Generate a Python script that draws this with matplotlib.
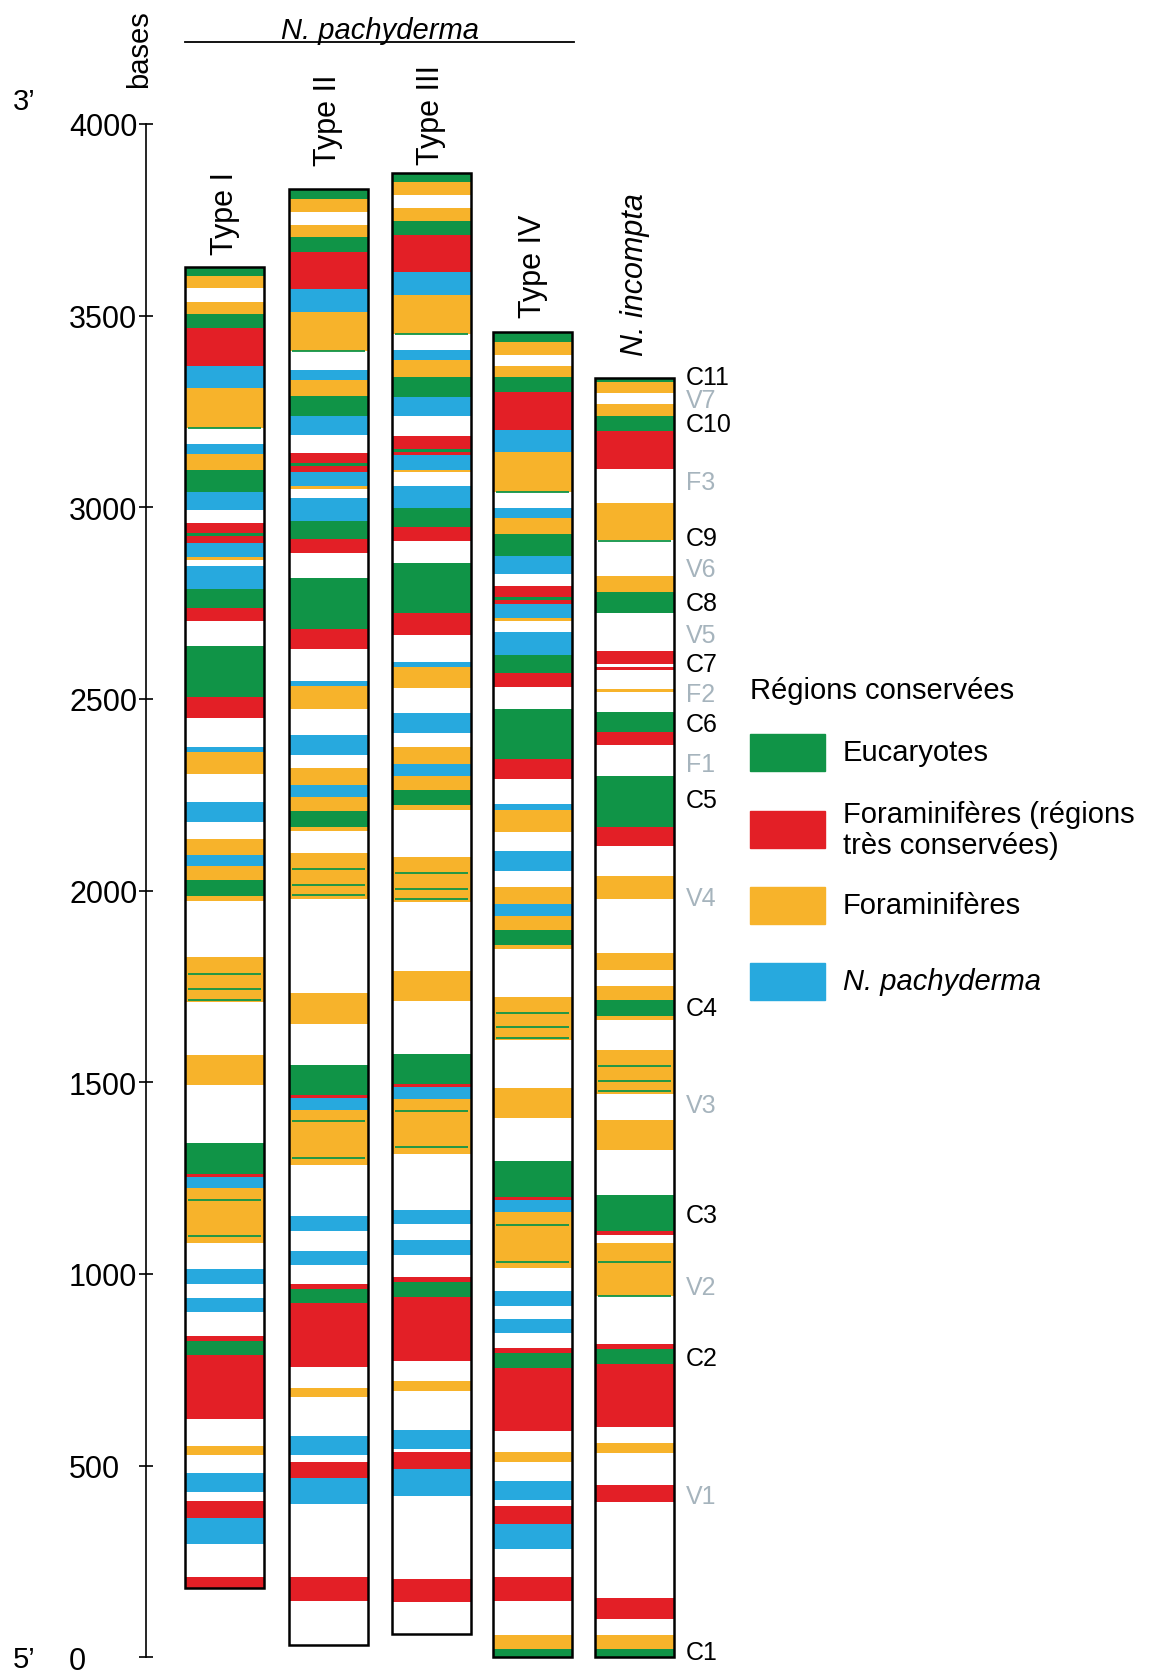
import numpy as np
import matplotlib.pyplot as plt

plt.rcParams['font.family'] = ['Liberation Sans', 'DejaVu Sans']

# couleurs des régions conservées
colors = {'E': '#109447', 'F': '#e31f26', 'O': '#f7b32b', 'P': '#27a9de'}
green = colors['E']

column_names = ['Type I', 'Type II', 'Type III', 'Type IV', 'N. incompta']
column_start = [180, 32, 61, 0, 0]
column_end = [3626, 3830, 3872, 3456, 3338]

# (haut, bas, catégorie) en bases ; le blanc est implicite
type1_bands = [
    (3626, 3604, 'E'), (3604, 3571, 'O'), (3536, 3504, 'O'), (3504, 3467, 'E'),
    (3467, 3369, 'F'), (3369, 3310, 'P'), (3310, 3206, 'O'), (3165, 3139, 'P'),
    (3139, 3097, 'O'), (3097, 3041, 'E'), (3041, 2994, 'P'), (2958, 2933, 'F'),
    (2933, 2924, 'E'), (2924, 2907, 'F'), (2907, 2869, 'P'), (2869, 2863, 'O'),
    (2846, 2787, 'P'), (2787, 2738, 'E'), (2738, 2702, 'F'), (2637, 2506, 'E'),
    (2506, 2450, 'F'), (2375, 2361, 'P'), (2361, 2304, 'O'), (2232, 2180, 'P'),
    (2135, 2094, 'O'), (2094, 2063, 'P'), (2063, 2028, 'O'), (2028, 1985, 'E'),
    (1985, 1974, 'O'), (1826, 1710, 'O'), (1572, 1494, 'O'), (1342, 1262, 'E'),
    (1262, 1254, 'F'), (1254, 1223, 'P'), (1223, 1082, 'O'), (1013, 975, 'P'),
    (937, 900, 'P'), (839, 826, 'F'), (826, 789, 'E'), (789, 622, 'F'),
    (552, 528, 'O'), (480, 430, 'P'), (409, 363, 'F'), (363, 296, 'P'),
    (209, 180, 'F'),
]
type2_bands = [
    (3830, 3804, 'E'), (3804, 3771, 'O'), (3736, 3704, 'O'), (3704, 3667, 'E'),
    (3667, 3569, 'F'), (3569, 3509, 'P'), (3509, 3407, 'O'), (3359, 3333, 'P'),
    (3333, 3291, 'O'), (3291, 3237, 'E'), (3237, 3188, 'P'), (3141, 3115, 'F'),
    (3115, 3108, 'E'), (3108, 3091, 'F'), (3091, 3055, 'P'), (3055, 3048, 'O'),
    (3023, 2965, 'P'), (2965, 2917, 'E'), (2917, 2881, 'F'), (2815, 2682, 'E'),
    (2682, 2630, 'F'), (2548, 2533, 'P'), (2533, 2475, 'O'), (2406, 2355, 'P'),
    (2319, 2275, 'O'), (2275, 2243, 'P'), (2243, 2207, 'O'), (2207, 2165, 'E'),
    (2165, 2155, 'O'), (2097, 1978, 'O'), (1732, 1652, 'O'), (1546, 1468, 'E'),
    (1468, 1459, 'F'), (1459, 1428, 'P'), (1428, 1284, 'O'), (1150, 1113, 'P'),
    (1061, 1023, 'P'), (974, 961, 'F'), (961, 923, 'E'), (923, 756, 'F'),
    (702, 678, 'O'), (576, 528, 'P'), (510, 467, 'F'), (467, 400, 'P'),
    (209, 148, 'F'),
]
type3_bands = [
    (3872, 3848, 'E'), (3848, 3815, 'O'), (3780, 3748, 'O'), (3748, 3711, 'E'),
    (3711, 3613, 'F'), (3613, 3554, 'P'), (3554, 3452, 'O'), (3409, 3383, 'P'),
    (3383, 3341, 'O'), (3341, 3287, 'E'), (3287, 3239, 'P'), (3187, 3152, 'F'),
    (3152, 3145, 'E'), (3145, 3135, 'F'), (3135, 3098, 'P'), (3098, 3091, 'O'),
    (3056, 2998, 'P'), (2998, 2949, 'E'), (2949, 2913, 'F'), (2854, 2723, 'E'),
    (2723, 2668, 'F'), (2597, 2584, 'P'), (2584, 2528, 'O'), (2462, 2411, 'P'),
    (2374, 2330, 'O'), (2330, 2300, 'P'), (2300, 2263, 'O'), (2263, 2222, 'E'),
    (2222, 2211, 'O'), (2087, 1969, 'O'), (1791, 1713, 'O'), (1574, 1496, 'E'),
    (1496, 1487, 'F'), (1487, 1456, 'P'), (1456, 1313, 'O'), (1167, 1129, 'P'),
    (1089, 1050, 'P'), (991, 978, 'F'), (978, 939, 'E'), (939, 772, 'F'),
    (720, 695, 'O'), (594, 543, 'P'), (535, 490, 'F'), (490, 422, 'P'),
    (204, 143, 'F'),
]
type4_bands = [
    (3456, 3432, 'E'), (3432, 3398, 'O'), (3369, 3339, 'O'), (3339, 3300, 'E'),
    (3300, 3202, 'F'), (3202, 3143, 'P'), (3143, 3039, 'O'), (2998, 2971, 'P'),
    (2971, 2930, 'O'), (2930, 2874, 'E'), (2874, 2826, 'P'), (2795, 2765, 'F'),
    (2765, 2759, 'E'), (2759, 2748, 'F'), (2748, 2710, 'P'), (2710, 2702, 'O'),
    (2674, 2615, 'P'), (2615, 2568, 'E'), (2568, 2530, 'F'), (2475, 2343, 'E'),
    (2343, 2291, 'F'), (2226, 2211, 'P'), (2211, 2152, 'O'), (2104, 2052, 'P'),
    (2010, 1965, 'O'), (1965, 1935, 'P'), (1935, 1898, 'O'), (1898, 1858, 'E'),
    (1858, 1848, 'O'), (1723, 1609, 'O'), (1485, 1407, 'O'), (1294, 1202, 'E'),
    (1202, 1193, 'F'), (1193, 1162, 'P'), (1162, 1015, 'O'), (955, 917, 'P'),
    (882, 845, 'P'), (806, 794, 'F'), (794, 755, 'E'), (755, 590, 'F'),
    (536, 510, 'O'), (459, 410, 'P'), (394, 348, 'F'), (348, 283, 'P'),
    (209, 148, 'F'), (58, 22, 'O'), (22, 0, 'E'),
]
incompta_bands = [
    (3338, 3326, 'E'), (3326, 3297, 'O'), (3269, 3237, 'O'), (3237, 3198, 'E'),
    (3198, 3101, 'F'), (3011, 2915, 'O'), (2820, 2780, 'O'), (2780, 2723, 'E'),
    (2624, 2591, 'F'), (2582, 2575, 'F'), (2526, 2519, 'O'), (2467, 2415, 'E'),
    (2415, 2380, 'F'), (2298, 2165, 'E'), (2165, 2117, 'F'), (2037, 1978, 'O'),
    (1837, 1794, 'O'), (1752, 1715, 'O'), (1715, 1672, 'E'), (1672, 1663, 'O'),
    (1585, 1469, 'O'), (1402, 1324, 'O'), (1206, 1111, 'E'), (1111, 1102, 'F'),
    (1081, 942, 'O'), (817, 804, 'F'), (804, 765, 'E'), (765, 602, 'F'),
    (558, 533, 'O'), (449, 406, 'F'), (155, 100, 'F'), (58, 22, 'O'),
    (22, 0, 'E'),
]
all_bands = [type1_bands, type2_bands, type3_bands, type4_bands, incompta_bands]

# fines lignes vertes (Eucaryotes) dans les blocs orange
green_lines = [
    [3206, 1782, 1743, 1715, 1193, 1098],
    [3407, 2056, 2015, 1988, 1398, 1303],
    [3452, 2045, 2004, 1978, 1426, 1332],
    [3039, 1682, 1643, 1615, 1128, 1032],
    [2913, 1543, 1504, 1476, 1032, 943],
]

region_labels = ['C11', 'V7', 'C10', 'F3', 'C9', 'V6', 'C8', 'V5', 'C7', 'F2', 'C6',
                 'F1', 'C5', 'V4', 'C4', 'V3', 'C3', 'V2', 'C2', 'V1', 'C1']
region_pos = [3340, 3281, 3217, 3065, 2921, 2840, 2751, 2666, 2591, 2513, 2435,
              2330, 2236, 1980, 1695, 1441, 1155, 966, 781, 422, 13]

legend_labels = ['Eucaryotes', 'Foraminifères (régions\ntrès conservées)',
                 'Foraminifères', 'N. pachyderma']
legend_keys = ['E', 'F', 'O', 'P']

# --- mise en page (pixels) ---
W, H = 1150, 1674
Y0, SCALE = 1658.3, 0.38335   # pixel de la base 0, pixels par base


def yb(py):
    # ligne de pixel -> bases
    return (Y0 - py) / SCALE


fig = plt.figure(figsize=(W / 100, H / 100), dpi=100)
ax = fig.add_axes([0, 0, 1, 1])
ax.set_xlim(0, W)
ax.set_ylim(yb(H), yb(0))

for s in ['top', 'right', 'bottom']:
    ax.spines[s].set_visible(False)
ax.spines['left'].set_position(('data', 146))
ax.spines['left'].set_bounds(0, 4000)
ax.spines['left'].set_linewidth(1.2)
ax.set_xticks([])
ax.set_yticks(np.arange(0, 4001, 500))
ax.tick_params(axis='y', direction='inout', length=10, width=1.2, labelsize=22, pad=50.4)
for t in ax.yaxis.get_major_ticks():
    t.label1.set_horizontalalignment('left')

centers = [224.5, 328, 431, 532.5, 634.5]
col_w = 79
label_gap = [13, 24, 9, 15, 23]

for i, bands in enumerate(all_bands):
    tops = np.array([b[0] for b in bands])
    bots = np.array([b[1] for b in bands])
    cols = [colors[b[2]] for b in bands]
    ax.bar(np.full(len(bands), centers[i]), tops - bots, bottom=bots, width=col_w,
           color=cols, linewidth=0)
    ax.hlines(green_lines[i], centers[i] - col_w / 2 + 3, centers[i] + col_w / 2 - 3,
              color=green, lw=1.3)
    ax.bar(centers[i], column_end[i] - column_start[i], bottom=column_start[i],
           width=col_w, fill=False, edgecolor='black', linewidth=1.8)
    style = 'italic' if column_names[i].startswith('N.') else 'normal'
    ax.text(centers[i], column_end[i] + label_gap[i] / SCALE, column_names[i],
            rotation=90, ha='center', va='bottom', fontsize=22, style=style)

# étiquettes des régions à droite
for lab, pos in zip(region_labels, region_pos):
    c = 'black' if lab.startswith('C') else '#a6b4bd'
    ax.text(686, pos, lab, ha='left', va='center', fontsize=18, color=c)

# en-tête
ax.text(380, yb(31), 'N. pachyderma', style='italic', ha='center', va='center', fontsize=21)
ax.plot([185, 574], [yb(43), yb(43)], color='black', lw=1.3)
ax.text(139, yb(49), 'bases', rotation=90, ha='center', va='center', fontsize=21)
ax.text(13, yb(102), '3’', ha='left', va='center', fontsize=21)
ax.text(13, yb(1660), '5’', ha='left', va='center', fontsize=21)

# légende
ax.text(750, yb(691), 'Régions conservées', ha='left', va='center', fontsize=21)
patch_top = [735, 812, 888, 964]
for key, lab, pt in zip(legend_keys, legend_labels, patch_top):
    ax.add_patch(plt.Rectangle((750, yb(pt + 37)), 75, 37 / SCALE, color=colors[key]))
    style = 'italic' if lab.startswith('N.') else 'normal'
    ax.text(843, yb(pt + 18.5), lab, ha='left', va='center', fontsize=21,
            style=style, linespacing=1.1)

fig.savefig('out.png', dpi=100)
